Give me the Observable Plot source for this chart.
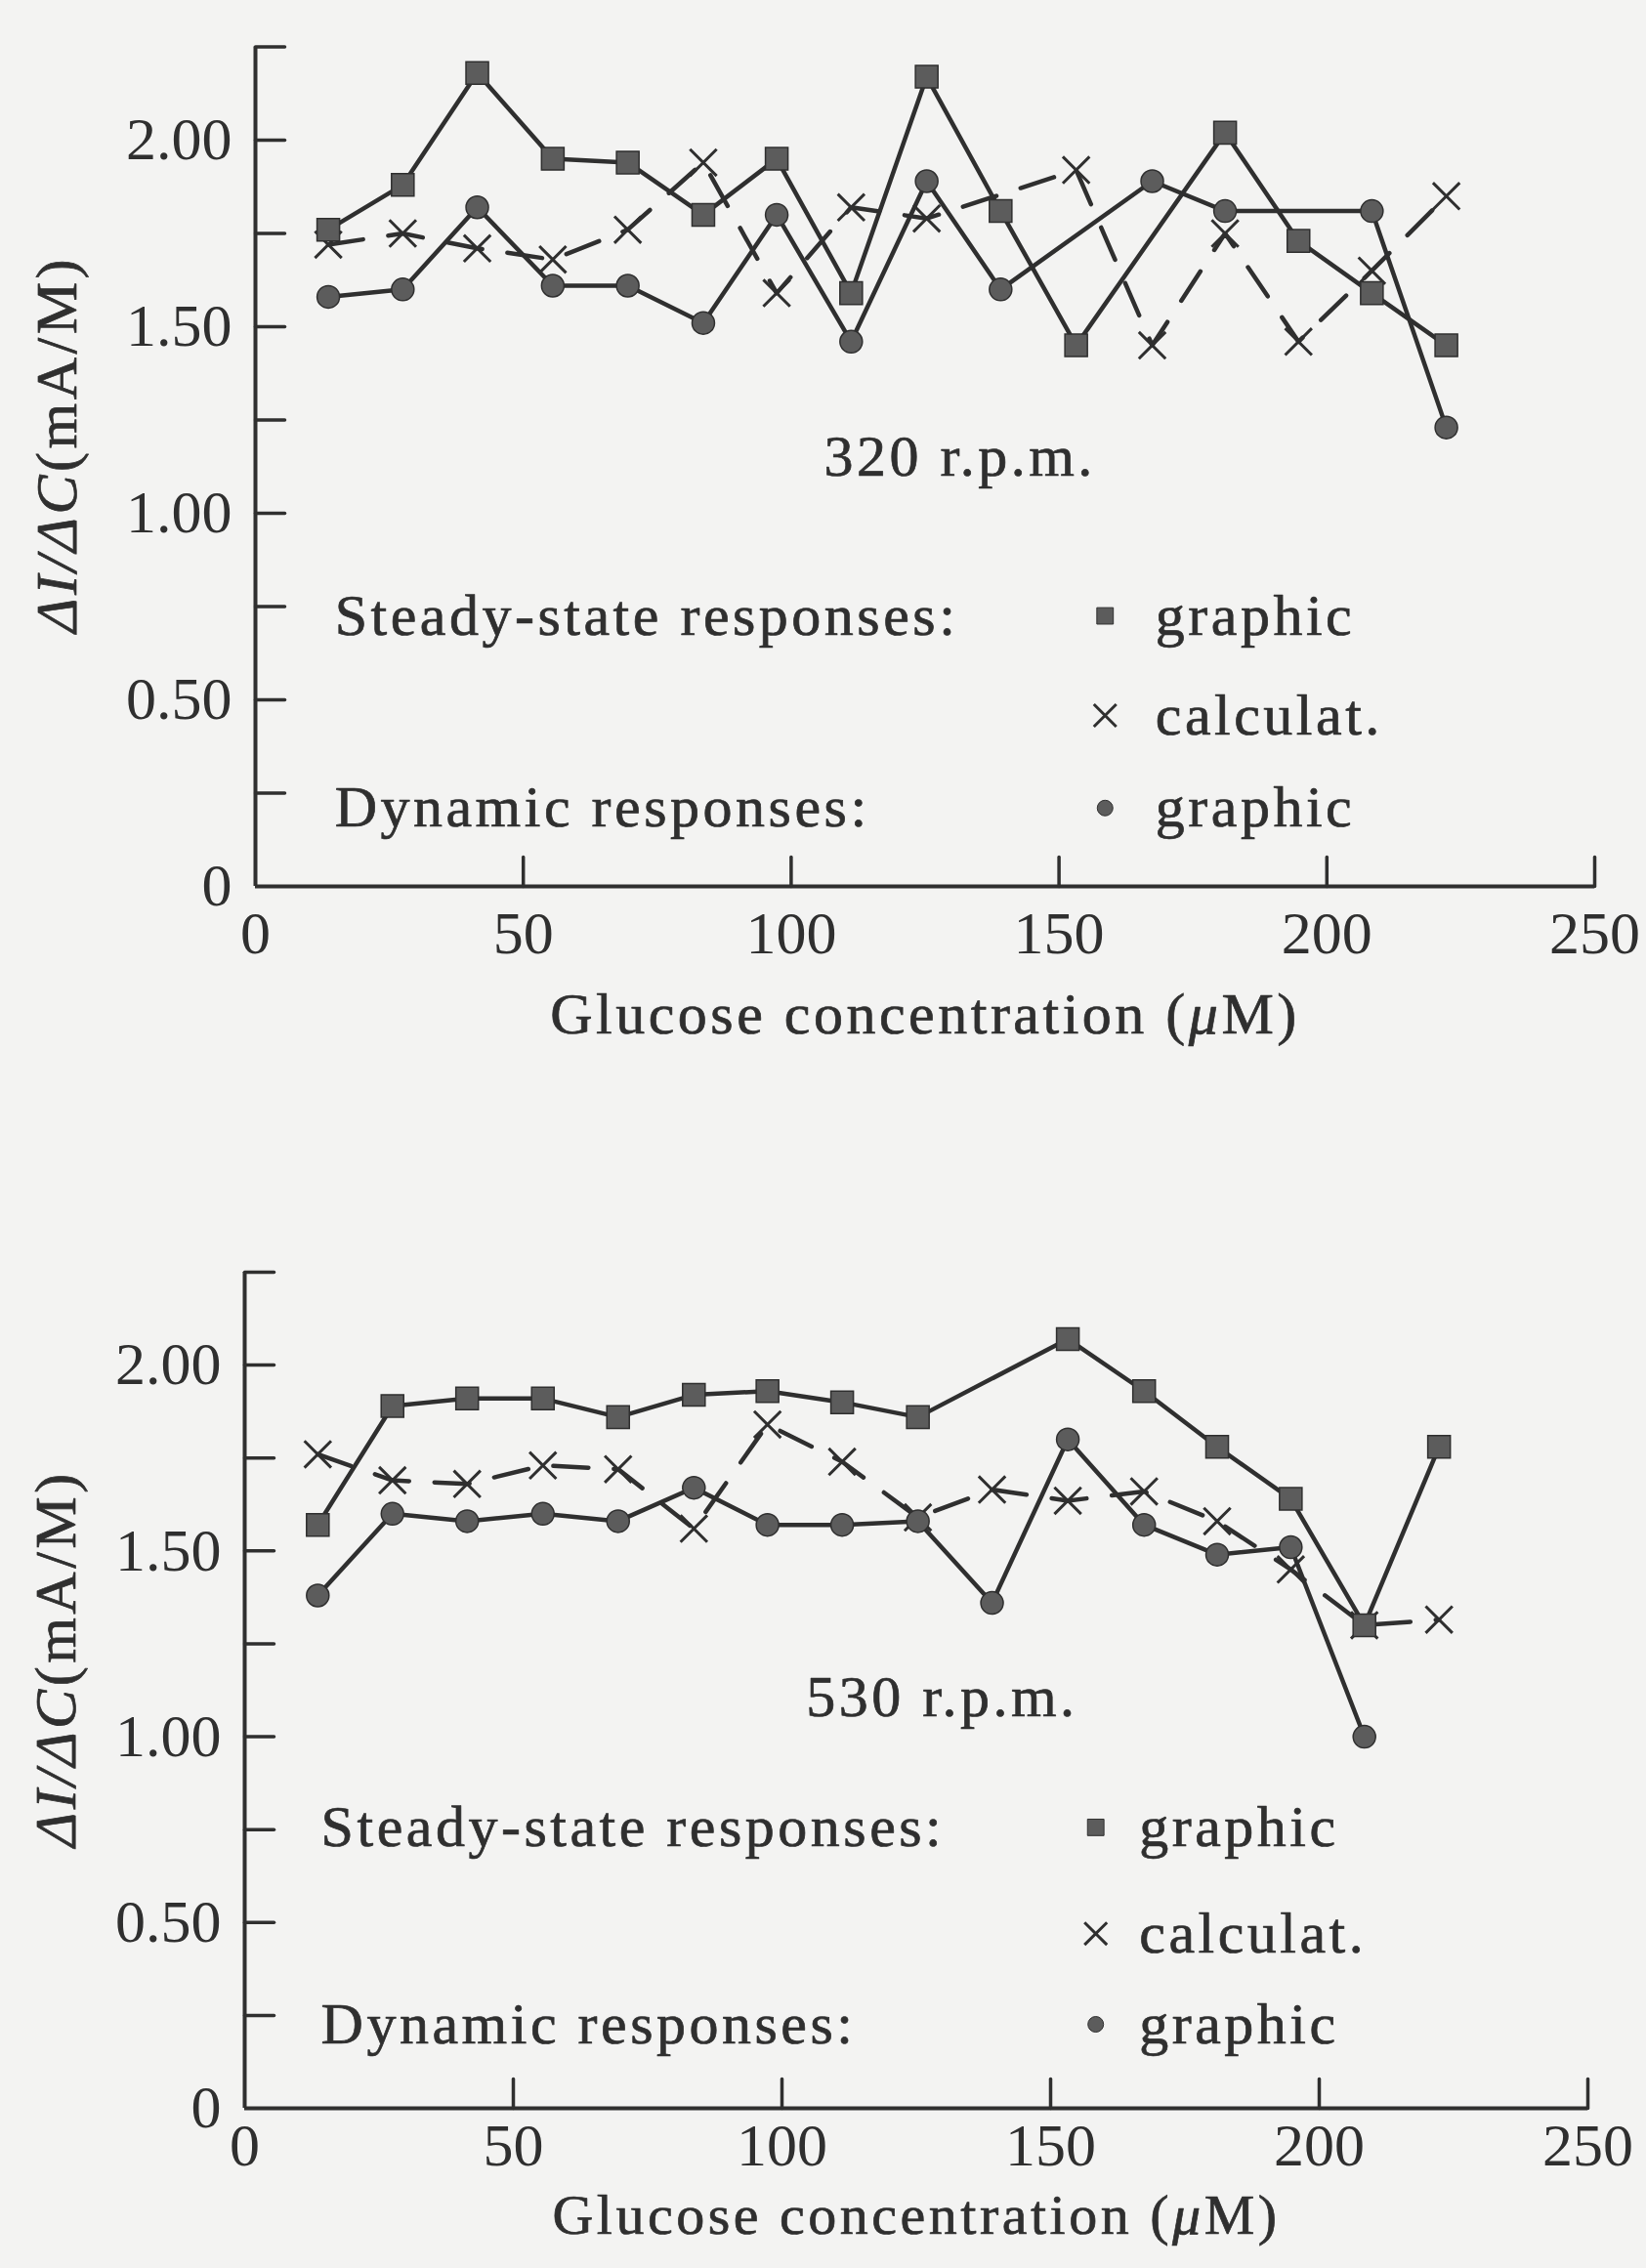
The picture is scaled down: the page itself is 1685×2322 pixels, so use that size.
<!DOCTYPE html>
<html><head><meta charset="utf-8">
<script src="https://cdn.jsdelivr.net/npm/d3@7"></script>
<script src="https://cdn.jsdelivr.net/npm/@observablehq/plot@0.6"></script>
<style>
html,body{margin:0;padding:0;background:#f3f3f2;}
#c{width:1685px;height:2322px;overflow:hidden;}
#c svg{display:block;}
</style></head><body><div id="c"></div>
<script>
// ---- data ----
const conc = [13.6, 27.5, 41.4, 55.5, 69.5, 83.6, 97.3, 111.2, 125.3, 139.1, 153.2, 167.4, 181.0, 194.7, 208.4, 222.3];
const steady320  = [1.76, 1.88, 2.18, 1.95, 1.94, 1.80, 1.95, 1.59, 2.17, 1.81, 1.45, null, 2.02, 1.73, 1.59, 1.45];
const calc320    = [1.72, 1.75, 1.71, 1.68, 1.76, 1.94, 1.59, 1.82, 1.79, null, 1.92, 1.45, 1.75, 1.46, 1.65, 1.85];
const dynamic320 = [1.58, 1.60, 1.82, 1.61, 1.61, 1.51, 1.80, 1.46, 1.89, 1.60, null, 1.89, 1.81, null, 1.81, 1.23];
const steady530  = [1.57, 1.89, 1.91, 1.91, 1.86, 1.92, 1.93, 1.90, 1.86, null, 2.07, 1.93, 1.78, 1.64, 1.30, 1.78];
const calc530    = [1.76, 1.69, 1.68, 1.73, 1.72, 1.56, 1.84, 1.74, 1.59, 1.665, 1.635, 1.66, 1.58, 1.45, 1.30, 1.315];
const dynamic530 = [1.38, 1.60, 1.58, 1.60, 1.58, 1.67, 1.57, 1.57, 1.58, 1.36, 1.80, 1.57, 1.49, 1.51, 1.00, null];

const xLabels = [0, 50, 100, 150, 200, 250];
const xTicks = [50, 100, 150, 200, 250];
const yLabels = [0, 0.5, 1, 1.5, 2];
const yTicks = [0.25, 0.5, 0.75, 1, 1.25, 1.5, 1.75, 2, 2.25];
const legendGroups = ["Steady-state responses:", "", "Dynamic responses:"];
const legendNames = ["graphic", "calculat.", "graphic"];
const legendSymbols = ["square", "times", "circle"];
const xTitle = "Glucose concentration (\u03bcM)";
const yTitle = "\u0394I/\u0394C(mA/M)";
const speeds = ["320 r.p.m.", "530 r.p.m."];

// ---- styling ----
const ink = "#2f2f2f";
const markFill = "#5c5c5c";
const font = "'Liberation Serif', 'Times New Roman', serif";
const tickShape = {draw(ctx, l) { ctx.moveTo(0, 0); ctx.lineTo(0, -l); }};

function chart(cfg) {
  const pts = vals => conc.map((c, i) => ({c, v: vals[i]})).filter(d => d.v != null);
  const S = pts(cfg.steady), C = pts(cfg.calc), D = pts(cfg.dynamic);
  const groups = legendGroups.map((t, i) => ({t, y: cfg.legY[i]})).filter(d => d.t);
  const names = legendNames.map((t, i) => ({t, y: cfg.legY[i], s: legendSymbols[i]}));
  const lineOpts = {x: "c", y: "v", stroke: ink, strokeWidth: 4.5, strokeLinejoin: "round"};
  const txt = {fill: ink, stroke: ink, strokeWidth: 0.7};
  return Plot.plot({
    width: 1685, height: cfg.height,
    marginLeft: cfg.ml, marginRight: cfg.mr, marginTop: cfg.mt, marginBottom: cfg.mb,
    style: {background: "transparent", color: ink, fontFamily: font, overflow: "visible"},
    x: {domain: [0, 250]},
    y: {domain: [0, 2.25]},
    marks: [
      Plot.ruleX([0], {stroke: ink, strokeWidth: 4}),
      Plot.ruleY([0], {stroke: ink, strokeWidth: 4}),
      Plot.vector(yTicks, {x: () => 0, y: d => d, length: 30, rotate: 90, anchor: "start", shape: tickShape, stroke: ink, strokeWidth: 3.5}),
      Plot.vector(xTicks, {x: d => d, y: () => 0, length: 30, rotate: 0, anchor: "start", shape: tickShape, stroke: ink, strokeWidth: 3.5}),
      Plot.axisY({ticks: yLabels, tickSize: 0, tickPadding: 24, fontSize: 62, label: null, tickFormat: d => d === 0 ? "0" : d.toFixed(2)}),
      Plot.axisX({ticks: xLabels, tickSize: 0, tickPadding: cfg.xPad, fontSize: 62, label: null, tickFormat: d => String(d)}),
      Plot.line(S, lineOpts),
      Plot.line(D, lineOpts),
      Plot.line(C, {...lineOpts, strokeDasharray: "36,26"}),
      Plot.dot(C, {x: "c", y: "v", symbol: "times", r: 12.5, stroke: ink, strokeWidth: 3}),
      Plot.dot(S, {x: "c", y: "v", symbol: "square", r: 13, fill: markFill, stroke: ink, strokeWidth: 1.5}),
      Plot.dot(D, {x: "c", y: "v", symbol: "circle", r: 11.5, fill: markFill, stroke: ink, strokeWidth: 1.5}),
      Plot.text([cfg.speed], {x: () => cfg.speedX, y: () => cfg.speedY, text: d => d, fontSize: 60, ...txt}),
      Plot.text(groups, {x: () => cfg.legLabelX, y: "y", text: "t", textAnchor: "start", fontSize: 60, ...txt}),
      Plot.text(names, {x: () => cfg.legTextX, y: "y", text: "t", textAnchor: "start", fontSize: 60, ...txt}),
      Plot.dot(names.filter(d => d.s === "square"), {x: () => cfg.legMarkX, y: "y", symbol: "square", r: 9.5, fill: markFill, stroke: ink, strokeWidth: 1}),
      Plot.dot(names.filter(d => d.s === "times"), {x: () => cfg.legMarkX, y: "y", symbol: "times", r: 10.5, stroke: ink, strokeWidth: 3}),
      Plot.dot(names.filter(d => d.s === "circle"), {x: () => cfg.legMarkX, y: "y", symbol: "circle", r: 8, fill: markFill, stroke: ink, strokeWidth: 1}),
      Plot.text([yTitle], {x: () => cfg.yTitleX, y: () => cfg.yTitleY, text: d => d, rotate: -90, fontSize: 60, ...txt}),
      Plot.text([xTitle], {frameAnchor: "bottom", dy: cfg.xTitleDy, text: d => d, fontSize: cfg.xTitleSize, ...txt})
    ]
  });
}

function post(svg) {
  const s = d3.select(svg);
  s.selectAll('g[aria-label="text"] text').style("letter-spacing", "3.5px");
  s.selectAll("text").each(function () {
    const t = this.textContent;
    const el = d3.select(this);
    if (t === yTitle) {
      el.text(null);
      el.append("tspan").attr("font-style", "italic").text("\u0394I/\u0394C");
      el.append("tspan").text("(mA/M)");
    } else if (t === xTitle) {
      el.text(null);
      el.append("tspan").text("Glucose concentration (");
      el.append("tspan").attr("font-style", "italic").text("\u03bc");
      el.append("tspan").text("M)");
    }
  });
  return svg;
}

const root = document.getElementById("c");
root.append(post(chart({
  steady: steady320, calc: calc320, dynamic: dynamic320, speed: speeds[0],
  height: 1130, ml: 261, mr: 53, mt: 47.5, mb: 223, xPad: 24,
  speedX: 131.5, speedY: 1.15,
  legY: [0.725, 0.458, 0.21], legLabelX: 14.8, legMarkX: 158.6, legTextX: 168,
  yTitleX: -37, yTitleY: 1.185, xTitleDy: 150, xTitleSize: 60
})));
root.append(post(chart({
  steady: steady530, calc: calc530, dynamic: dynamic530, speed: speeds[1],
  height: 1192, ml: 250, mr: 60, mt: 172, mb: 164, xPad: 14,
  speedX: 129.8, speedY: 1.105,
  legY: [0.756, 0.47, 0.226], legLabelX: 14.2, legMarkX: 158.4, legTextX: 166.5,
  yTitleX: -35, yTitleY: 1.21, xTitleDy: 128, xTitleSize: 58
})));
</script>
</body></html>
